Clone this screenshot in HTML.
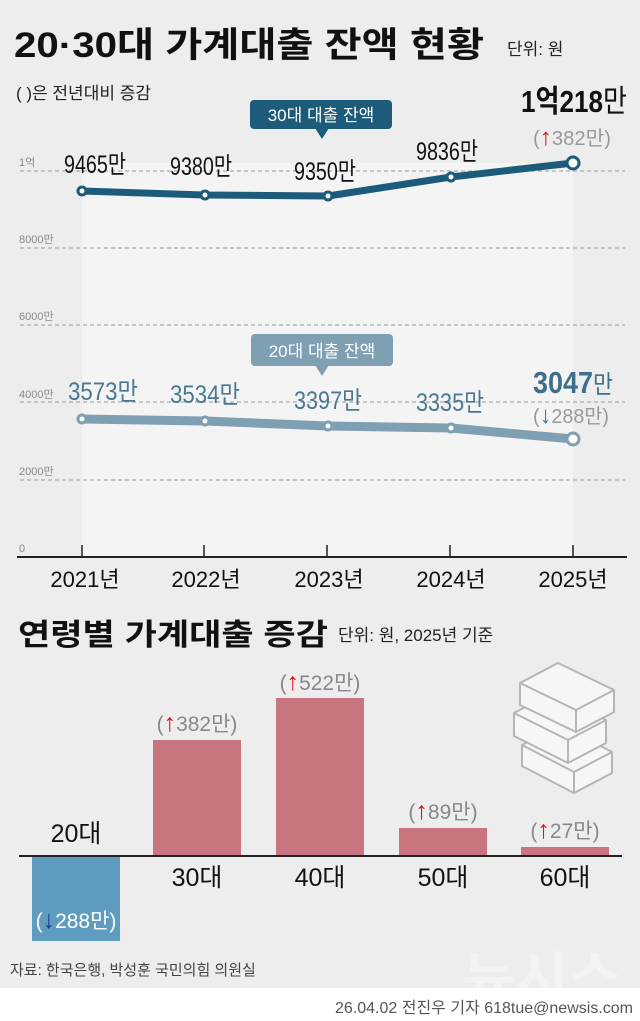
<!DOCTYPE html>
<html><head><meta charset="utf-8"><style>
html,body{margin:0;padding:0;background:#ededed}
svg{display:block}
text{font-family:"Liberation Sans","Noto Sans CJK KR",sans-serif}
</style></head><body>
<svg width="640" height="1021" viewBox="0 0 640 1021" xmlns="http://www.w3.org/2000/svg">
<rect width="640" height="1021" fill="#ededed"/>
<rect x="82" y="163" width="491" height="394" fill="#f4f4f4"/>
<text x="14" y="57" font-size="35" font-weight="bold" fill="#111" textLength="470" lengthAdjust="spacingAndGlyphs">20·30대 가계대출 잔액 현황</text>
<text x="507" y="55" font-size="17" fill="#222">단위: 원</text>
<text x="16" y="99" font-size="17" fill="#222">( )은 전년대비 증감</text>
<g stroke="#9a9a9a" stroke-dasharray="4,3" stroke-width="1">
<line x1="20" y1="171" x2="625" y2="171"/><line x1="20" y1="248" x2="625" y2="248"/>
<line x1="20" y1="325" x2="625" y2="325"/><line x1="20" y1="402" x2="625" y2="402"/>
<line x1="20" y1="480" x2="625" y2="480"/></g>
<g font-size="11" fill="#8a8a8a">
<text x="19" y="166">1억</text><text x="19" y="243">8000만</text><text x="19" y="320">6000만</text>
<text x="19" y="398">4000만</text><text x="19" y="475">2000만</text><text x="19" y="552">0</text></g>
<line x1="17" y1="557" x2="627" y2="557" stroke="#222" stroke-width="2"/>
<g stroke="#222" stroke-width="1.5"><line x1="82" y1="545" x2="82" y2="557"/><line x1="204" y1="545" x2="204" y2="557"/><line x1="327" y1="545" x2="327" y2="557"/><line x1="450" y1="545" x2="450" y2="557"/><line x1="573" y1="545" x2="573" y2="557"/></g>
<g font-size="22" fill="#111" text-anchor="middle">
<text x="85" y="587">2021년</text><text x="206" y="587">2022년</text><text x="329" y="587">2023년</text><text x="451" y="587">2024년</text><text x="573" y="587">2025년</text></g>
<polyline points="82,191 205,195 328,196 451,177 573,163" fill="none" stroke="#1d5b7a" stroke-width="7" stroke-linejoin="round"/>
<g fill="#fff" stroke="#1d5b7a" stroke-width="3"><circle cx="82" cy="191" r="4"/><circle cx="205" cy="195" r="4"/><circle cx="328" cy="196" r="4"/><circle cx="451" cy="177" r="4"/><circle cx="573" cy="163" r="6"/></g>
<rect x="250" y="100" width="142" height="29" rx="4" fill="#1d5b7a"/>
<polygon points="315,128 329,128 322,139" fill="#1d5b7a"/>
<text x="321" y="121" font-size="17" fill="#fff" text-anchor="middle">30대 대출 잔액</text>
<g font-size="25" fill="#111">
<text x="64" y="173" textLength="62" lengthAdjust="spacingAndGlyphs">9465만</text>
<text x="170" y="175" textLength="62" lengthAdjust="spacingAndGlyphs">9380만</text>
<text x="294" y="180" textLength="62" lengthAdjust="spacingAndGlyphs">9350만</text>
<text x="416" y="160" textLength="62" lengthAdjust="spacingAndGlyphs">9836만</text></g>
<text x="521" y="112" font-size="31" fill="#111" font-weight="bold" textLength="106" lengthAdjust="spacingAndGlyphs">1억218<tspan font-weight="normal">만</tspan></text>
<text x="533" y="145" font-size="20" fill="#999" textLength="78" lengthAdjust="spacingAndGlyphs">(<tspan fill="#e0101b" font-weight="bold" font-size="24">↑</tspan>382만)</text>
<polyline points="82,419 205,421 328,426 451,428 573,439" fill="none" stroke="#7f9fb3" stroke-width="9" stroke-linejoin="round"/>
<g fill="#fff" stroke="#7f9fb3" stroke-width="3"><circle cx="82" cy="419" r="4"/><circle cx="205" cy="421" r="4"/><circle cx="328" cy="426" r="4"/><circle cx="451" cy="428" r="4"/><circle cx="573" cy="439" r="6"/></g>
<rect x="251" y="334" width="142" height="32" rx="4" fill="#7f9fb3"/>
<polygon points="315,365 329,365 322,376" fill="#7f9fb3"/>
<text x="322" y="357" font-size="17" fill="#fff" text-anchor="middle">20대 대출 잔액</text>
<g font-size="25" fill="#4a7890">
<text x="68" y="400" textLength="70" lengthAdjust="spacingAndGlyphs">3573만</text>
<text x="170" y="403" textLength="70" lengthAdjust="spacingAndGlyphs">3534만</text>
<text x="294" y="409" textLength="68" lengthAdjust="spacingAndGlyphs">3397만</text>
<text x="416" y="411" textLength="68" lengthAdjust="spacingAndGlyphs">3335만</text></g>
<text x="533" y="393" font-size="31" fill="#3d6f8a" font-weight="bold" textLength="80" lengthAdjust="spacingAndGlyphs">3047<tspan font-weight="normal" font-size="25">만</tspan></text>
<text x="533" y="423" font-size="20" fill="#999" textLength="76" lengthAdjust="spacingAndGlyphs">(<tspan fill="#1f78c0" font-weight="bold" font-size="24">↓</tspan>288만)</text>
<text x="18" y="645" font-size="30" font-weight="bold" fill="#111" textLength="310" lengthAdjust="spacingAndGlyphs">연령별 가계대출 증감</text>
<text x="338" y="641" font-size="17" fill="#222">단위: 원, 2025년 기준</text>
<g stroke="#b5b5b5" stroke-width="2" fill="#f6f6f6" stroke-linejoin="round">
<polygon points="522,745 560,725 612,752 612,773 574,793 522,766"/>
<polygon points="514,713 552,693 606,720 606,743 568,763 514,736"/>
<polygon points="520,683 558,663 614,690 614,712 576,732 520,705"/>
<polyline points="520,683 576,710 614,690" fill="none"/><polyline points="576,710 576,732" fill="none"/>
<polyline points="514,713 568,740 606,720" fill="none"/><polyline points="568,740 568,763" fill="none"/>
<polyline points="522,745 574,772 612,752" fill="none"/><polyline points="574,772 574,793" fill="none"/></g>
<rect x="32" y="856" width="88" height="85" fill="#5f9dc0"/>
<rect x="153" y="740" width="88" height="116" fill="#c97580"/>
<rect x="276" y="698" width="88" height="158" fill="#c97580"/>
<rect x="399" y="828" width="88" height="28" fill="#c97580"/>
<rect x="521" y="847" width="88" height="9" fill="#c97580"/>
<line x1="19" y1="856" x2="622" y2="856" stroke="#222" stroke-width="2"/>
<g font-size="25" fill="#111" text-anchor="middle">
<text x="76" y="842">20대</text><text x="197" y="886">30대</text><text x="320" y="886">40대</text><text x="443" y="886">50대</text><text x="565" y="886">60대</text></g>
<g font-size="21" fill="#888" text-anchor="middle">
<text x="197" y="731">(<tspan fill="#e0101b" font-weight="bold" font-size="25">↑</tspan>382만)</text>
<text x="320" y="690">(<tspan fill="#e0101b" font-weight="bold" font-size="25">↑</tspan>522만)</text>
<text x="443" y="819">(<tspan fill="#e0101b" font-weight="bold" font-size="25">↑</tspan>89만)</text>
<text x="565" y="838">(<tspan fill="#e0101b" font-weight="bold" font-size="25">↑</tspan>27만)</text>
<text x="76" y="928" fill="#fff">(<tspan fill="#1a3f8f" font-weight="bold" font-size="25">↓</tspan>288만)</text></g>
<text x="10" y="975" font-size="15" fill="#444">자료: 한국은행, 박성훈 국민의힘 의원실</text>
<text x="462" y="995" font-size="52" font-weight="bold" fill="#f3f3f3" textLength="160" lengthAdjust="spacingAndGlyphs">뉴시스</text>
<rect x="0" y="988" width="640" height="33" fill="#fff"/>
<text x="633" y="1013" font-size="16" fill="#555" text-anchor="end">26.04.02 전진우 기자 618tue@newsis.com</text>
</svg>
</body></html>
